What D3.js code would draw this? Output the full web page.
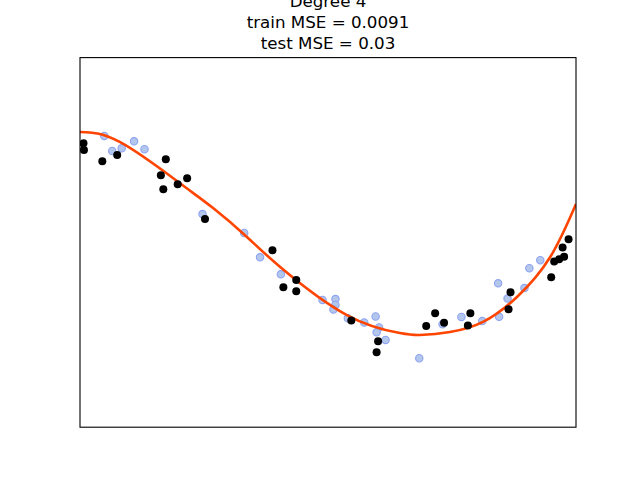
<!DOCTYPE html>
<html>
<head>
<meta charset="utf-8">
<script src="https://cdn.jsdelivr.net/npm/d3@7"></script>
<style>
  body { margin: 0; background: #fff; }
  text { font-family: "DejaVu Sans", sans-serif; }
</style>
</head>
<body>
<svg width="640" height="480"></svg>
<script>
// training samples (light blue)
const trainX = [0.049, 0.065, 0.084, 0.109, 0.130, 0.247, 0.331, 0.363, 0.405, 0.489,
  0.515, 0.515, 0.511, 0.540, 0.573, 0.596, 0.603, 0.598, 0.616, 0.684,
  0.731, 0.769, 0.811, 0.843, 0.845, 0.862, 0.896, 0.906, 0.928]
const trainY = [1.152, 0.989, 1.018, 1.094, 1.008, 0.307, 0.102, -0.161, -0.345, -0.623,
  -0.613, -0.677, -0.726, -0.821, -0.867, -0.802, -0.921, -0.973, -1.056, -1.254,
  -0.886, -0.807, -0.851, -0.443, -0.805, -0.607, -0.494, -0.280, -0.193]

// test samples (black)
const testX = [0.007, 0.008, 0.045, 0.075, 0.173, 0.163, 0.168, 0.197, 0.216, 0.252,
  0.388, 0.436, 0.410, 0.436, 0.547, 0.601, 0.598, 0.698, 0.716, 0.734,
  0.782, 0.787, 0.864, 0.868, 0.950, 0.956, 0.966, 0.976, 0.973, 0.985]
const testY = [1.073, 1.000, 0.878, 0.946, 0.899, 0.726, 0.575, 0.629, 0.694, 0.253,
  -0.085, -0.407, -0.486, -0.529, -0.845, -1.069, -1.189, -0.905, -0.766, -0.869,
  -0.899, -0.767, -0.723, -0.540, -0.378, -0.207, -0.182, -0.155, -0.055, 0.034]

// fitted degree-4 model
const fitX = [0, 0.081, 0.2016, 0.269, 0.336, 0.403, 0.538, 0.645,
  0.685, 0.746, 0.8125, 0.881, 0.948, 1.0]
const fitY = [1.195, 1.085, 0.640, 0.369, 0.062, -0.263, -0.786, -0.981,
  -1.002, -0.970, -0.861, -0.591, -0.158, 0.416]

const titleLines = ["Degree 4", "train MSE = 0.0091", "test MSE = 0.03"]

const svg = d3.select("svg")

const plotLeft = 80, plotRight = 576, plotTop = 57.6, plotBottom = 427.2

const x = d3.scaleLinear().domain([0, 1]).range([plotLeft, plotRight])
const y = d3.scaleLinear().domain([-2, 2]).range([plotBottom, plotTop])

svg.append("clipPath")
  .attr("id", "clip")
  .append("rect")
  .attr("x", plotLeft)
  .attr("y", plotTop)
  .attr("width", plotRight - plotLeft)
  .attr("height", plotBottom - plotTop)

const plot = svg.append("g").attr("clip-path", "url(#clip)")

plot.selectAll("circle.train")
  .data(trainX)
  .enter().append("circle")
  .attr("class", "train")
  .attr("cx", (d, i) => x(d))
  .attr("cy", (d, i) => y(trainY[i]))
  .attr("r", 3.7)
  .attr("fill", "#b3c6ec")
  .attr("stroke", "#8ea3f2")
  .attr("stroke-width", 1.1)

const line = d3.line()
  .x((d, i) => x(d))
  .y((d, i) => y(fitY[i]))
  .curve(d3.curveNatural)

plot.append("path")
  .datum(fitX)
  .attr("d", line)
  .attr("fill", "none")
  .attr("stroke", "#ff4500")
  .attr("stroke-width", 2.6)

plot.selectAll("circle.test")
  .data(testX)
  .enter().append("circle")
  .attr("class", "test")
  .attr("cx", (d, i) => x(d))
  .attr("cy", (d, i) => y(testY[i]))
  .attr("r", 4)
  .attr("fill", "#000")

svg.append("rect")
  .attr("x", plotLeft)
  .attr("y", plotTop)
  .attr("width", plotRight - plotLeft)
  .attr("height", plotBottom - plotTop)
  .attr("fill", "none")
  .attr("stroke", "#000")
  .attr("stroke-width", 1.1)

svg.selectAll("text.title")
  .data(titleLines)
  .enter().append("text")
  .attr("class", "title")
  .attr("x", (plotLeft + plotRight) / 2)
  .attr("y", (d, i) => 7 + i * 20.8)
  .attr("text-anchor", "middle")
  .attr("font-size", 16.7)
  .attr("fill", "#000")
  .text(d => d)
</script>
</body>
</html>
